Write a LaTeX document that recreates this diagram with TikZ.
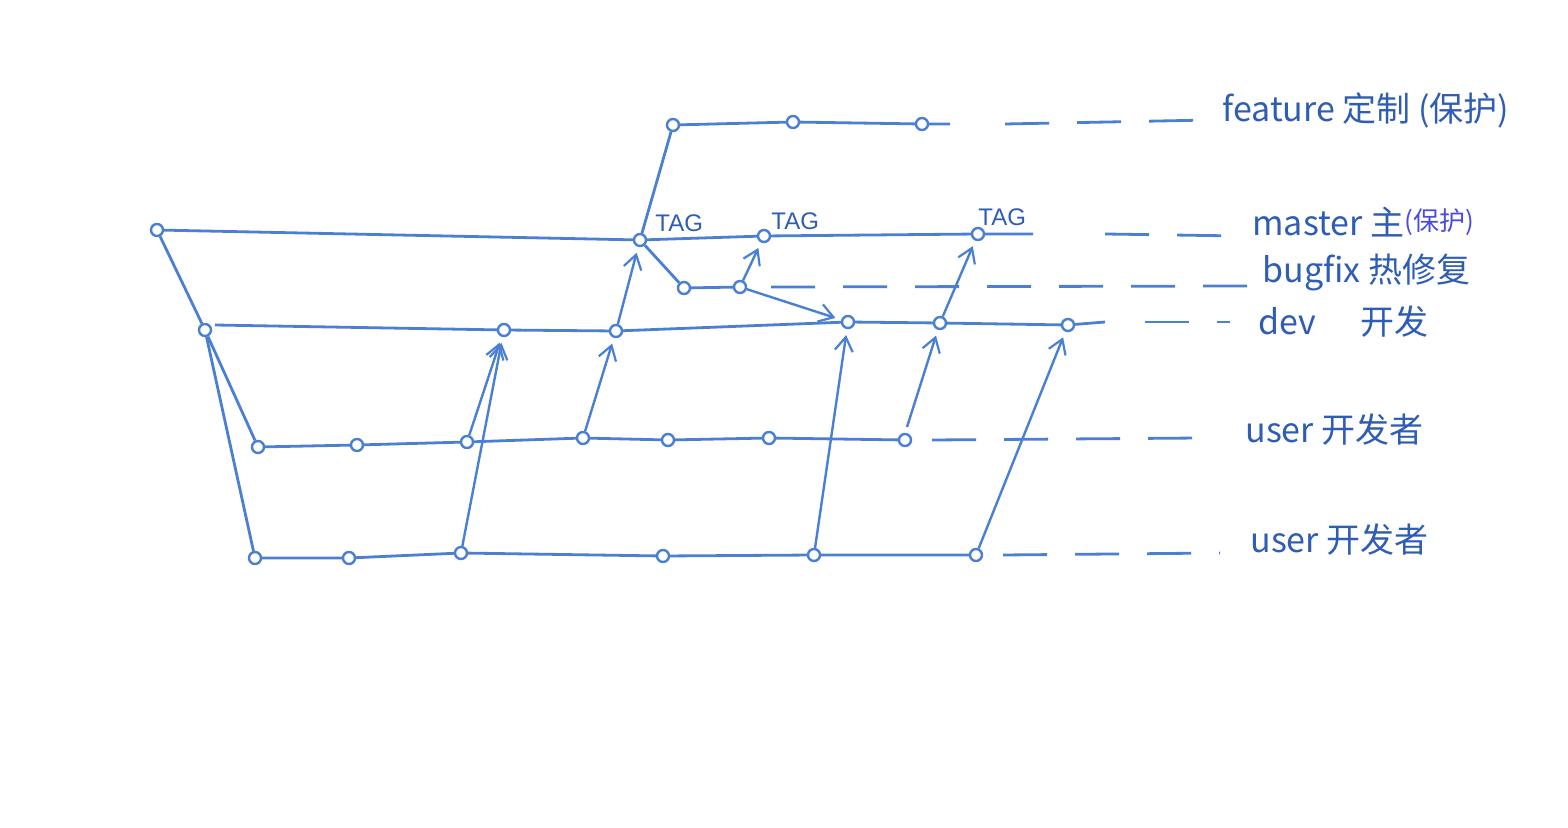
\documentclass[tikz,border=0pt]{standalone}
\usepackage{fontspec}
\setmainfont{Liberation Sans}
\newfontfamily\cjk{Noto Sans CJK SC}
\usetikzlibrary{arrows.meta}
\definecolor{pen}{HTML}{4A7FD2}
\definecolor{ink}{HTML}{2F5DB3}
\definecolor{typed}{HTML}{4B4BE0}
\tikzset{
  commit/.style={circle,draw=pen,fill=white,line width=1.2pt,inner sep=0pt,minimum size=6pt},
  branch/.style={draw=pen,line width=1.4pt},
  dashline/.style={draw=pen,line width=1.4pt,dash pattern=on 22pt off 14pt},
  merge/.style={draw=pen,line width=1.2pt,-{Straight Barb[length=7pt,width=9pt,line width=1.1pt]},shorten >=3pt},
  lab/.style={anchor=west,text=ink,font=\cjk\fontsize{17}{20}\selectfont,inner sep=0pt},
  tag/.style={anchor=south west,text=ink,font=\fontsize{12}{14}\selectfont,inner sep=0pt}
}
\begin{document}
\begin{tikzpicture}[x=0.5pt,y=-0.5pt]
\useasboundingbox (0,0) rectangle (1568,828);
% master
\node[commit] (m0) at (157,230) {};
\node[commit] (m1) at (640,240) {};
\node[commit] (m2) at (764,236) {};
\node[commit] (m3) at (978,234) {};
\coordinate (mend) at (1240,236);
% feature
\node[commit] (f1) at (673,125) {};
\node[commit] (f2) at (793,122) {};
\node[commit] (f3) at (922,124) {};
\coordinate (fend) at (1210,120);
% bugfix
\node[commit] (b1) at (684,288) {};
\node[commit] (b2) at (740,287) {};
\coordinate (bend) at (1250,286);
% dev
\node[commit] (d0) at (205,330) {};
\coordinate (dstart) at (215,325);
\node[commit] (d1) at (504,330) {};
\node[commit] (d2) at (616,331) {};
\node[commit] (d3) at (848,322) {};
\node[commit] (d4) at (940,323) {};
\node[commit] (d5) at (1068,325) {};
\coordinate (dsol) at (1105,322);
\coordinate (dend) at (1230,322);
% user 1
\node[commit] (a0) at (258,447) {};
\node[commit] (a1) at (357,445) {};
\node[commit] (a2) at (467,442) {};
\node[commit] (a3) at (583,438) {};
\node[commit] (a4) at (668,440) {};
\node[commit] (a5) at (769,438) {};
\node[commit] (a6) at (905,440) {};
\coordinate (aend) at (1200,438);
% user 2
\node[commit] (c0) at (255,558) {};
\node[commit] (c1) at (349,558) {};
\node[commit] (c2) at (461,553) {};
\node[commit] (c3) at (663,556) {};
\node[commit] (c4) at (814,555) {};
\node[commit] (c5) at (976,555) {};
\coordinate (cend) at (1220,553);

% branch lines
\draw[branch] (m0) -- (m1) -- (m2) -- (m3) -- ++(55,0);
\draw[dashline] ([xshift=60]m3.east) -- (mend);
\draw[branch] (m1) -- (f1) -- (f2) -- (f3) -- ++(28,0);
\draw[dashline] ([xshift=38]f3.east) -- (fend);
\draw[branch] (m1) -- (b1) -- (b2);
\draw[dashline] ([xshift=12]b2.east) -- (bend);
\draw[branch] (m0) -- (d0);
\draw[branch] (dstart) -- (d1) -- (d2) -- (d3) -- (d4) -- (d5) -- (dsol);
\draw[dashline] ([xshift=20]dsol) -- (dend);
\draw[branch] (d0) -- (a0) -- (a1) -- (a2) -- (a3) -- (a4) -- (a5) -- (a6);
\draw[dashline] ([xshift=10]a6.east) -- (aend);
\draw[branch] (d0) -- (c0) -- (c1) -- (c2) -- (c3) -- (c4) -- (c5);
\draw[dashline] ([xshift=10]c5.east) -- (cend);

% merges
\draw[merge] (a2) -- (d1);
\draw[merge] (c2) -- (d1);
\draw[merge] (a3) -- (d2);
\draw[merge] (d2) -- (m1);
\draw[merge] (b2) -- (m2);
\draw[merge] (b2) -- (d3);
\draw[merge] (c4) -- (d3);
\coordinate (a6top) at (907,427);
\draw[merge] (a6top) -- (d4);
\draw[merge] (d4) -- (m3);
\draw[merge] (c5) -- (d5);

% tags
\node[tag] (t1) at (655,232) {TAG};
\node[tag] (t2) at (771,230) {TAG};
\node[tag] (t3) at (978,226) {TAG};

% labels
\node[lab] (lf) at (1222,110) {feature 定制 (保护)};
\node[lab] (lm) at (1252,222) {master 主};
\node[anchor=west,text=typed,font=\cjk\fontsize{13}{15}\selectfont,inner sep=0pt] (lm2) at (lm.east) {(保护)};
\node[lab] (lb) at (1262,272) {bugfix 热修复};
\node[lab] (ld) at (1258,322) {dev\hspace{1.3em}开发};
\node[lab] (lu1) at (1245,430) {user 开发者};
\node[lab] (lu2) at (1250,540) {user 开发者};
\end{tikzpicture}
\end{document}
